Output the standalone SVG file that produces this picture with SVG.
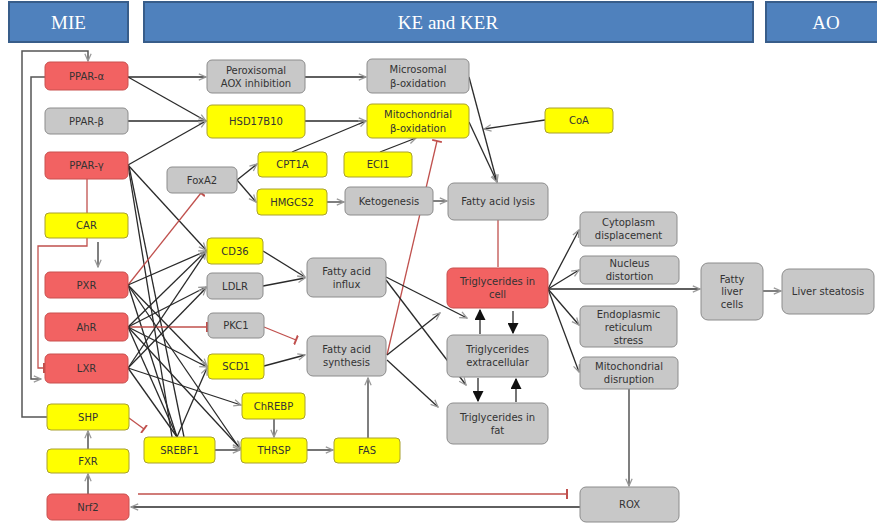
<svg xmlns="http://www.w3.org/2000/svg" width="877" height="525" viewBox="0 0 877 525">
<style>
.hd{fill:#4f81bd;stroke:#385d8a;stroke-width:2}
.ht{font-family:"Liberation Serif",serif;font-size:19px;fill:#fff;text-anchor:middle}
.r{fill:#f26262;stroke:#c9504f;stroke-width:1}
.y{fill:#ffff00;stroke:#a8a030;stroke-width:1}
.g{fill:#c8c8c8;stroke:#8c8c8c;stroke-width:1}
text.t{font-family:"DejaVu Sans",Verdana,sans-serif;font-size:10px;fill:#333;text-anchor:middle}
.e{fill:none;stroke:#2a2a2a;stroke-width:1.3}
.e2{fill:none;stroke:#555;stroke-width:1.5}
.i{fill:none;stroke:#c0504d;stroke-width:1.3}
</style>
<defs>
<marker id="a" viewBox="0 0 10 10" refX="9" refY="5" markerWidth="9" markerHeight="9" orient="auto" markerUnits="userSpaceOnUse"><path d="M1,1.5 L9,5 L1,8.5" fill="none" stroke="#999" stroke-width="1.4"/></marker>
<marker id="f" viewBox="0 0 10 10" refX="9" refY="5" markerWidth="11" markerHeight="11" orient="auto" markerUnits="userSpaceOnUse"><path d="M0,0 L10,5 L0,10 Z" fill="#111"/></marker>
<marker id="tb" viewBox="0 0 4 10" refX="2" refY="5" markerWidth="4" markerHeight="10" orient="auto" markerUnits="userSpaceOnUse"><path d="M2,0 L2,10" stroke="#c0504d" stroke-width="2"/></marker>
</defs>

<g id="headers">
<rect class="hd" x="9" y="2" width="119" height="40"/>
<text class="ht" x="68.5" y="29">MIE</text>
<rect class="hd" x="144" y="2" width="609" height="40"/>
<text class="ht" x="448" y="29">KE and KER</text>
<rect class="hd" x="766" y="2" width="112" height="40"/>
<text class="ht" x="826" y="29">AO</text>
</g>

<g id="connectors">
<path class="e2" d="M47,417 H22 V51 H88 V61" marker-end="url(#a)"/>
<path class="e2" d="M45,77 H31 V379 H41" marker-end="url(#a)"/>
<path class="i" d="M87,238 V246 H38 V368 H44" marker-end="url(#tb)"/>
<path class="i" d="M87,179 V213"/>
<path class="e2" d="M98,242 V267" marker-end="url(#a)"/>
<path class="e2" d="M88,449 V431" marker-end="url(#a)"/>
<path class="e2" d="M88,494 V474" marker-end="url(#a)"/>
<path class="i" d="M129,418 L144,429" marker-end="url(#tb)"/>
<path class="e" d="M128,77 H206" marker-end="url(#a)"/>
<path class="e" d="M128,77 L206,121" marker-end="url(#a)"/>
<path class="e" d="M128,121 H206" marker-end="url(#a)"/>
<path class="e" d="M128,165 L206,121" marker-end="url(#a)"/>
<path class="e" d="M128,165 L206,250" marker-end="url(#a)"/>
<path class="e" d="M128,165 L172,437"/>
<path class="e" d="M129,166 L184,437"/>
<path class="i" d="M128,285 L201,193" marker-end="url(#tb)"/>
<path class="e" d="M128,285 L206,251" marker-end="url(#a)"/>
<path class="e" d="M128,285 L207,366" marker-end="url(#a)"/>
<path class="e" d="M128,285 L240,449" marker-end="url(#a)"/>
<path class="e" d="M128,285 L177,437"/>
<path class="i" d="M128,327 H207" marker-end="url(#tb)"/>
<path class="e" d="M128,327 L206,251" marker-end="url(#a)"/>
<path class="e" d="M128,327 L206,287" marker-end="url(#a)"/>
<path class="e" d="M128,327 L207,367" marker-end="url(#a)"/>
<path class="e" d="M128,327 L177,437"/>
<path class="e" d="M128,327 L240,448" marker-end="url(#a)"/>
<path class="e" d="M128,368 L206,252" marker-end="url(#a)"/>
<path class="e" d="M128,368 L206,288" marker-end="url(#a)"/>
<path class="e" d="M128,368 L177,437"/>
<path class="e" d="M128,368 L241,405" marker-end="url(#a)"/>
<path class="e" d="M177,437 L207,368" marker-end="url(#a)"/>
<path class="e" d="M215,450 H240" marker-end="url(#a)"/>
<path class="e2" d="M274,419 V437" marker-end="url(#a)"/>
<path class="e" d="M307,450 H333" marker-end="url(#a)"/>
<path class="e2" d="M368,438 V378" marker-end="url(#a)"/>
<path class="e" d="M237,180 L257,164" marker-end="url(#a)"/>
<path class="e" d="M237,180 L256,202" marker-end="url(#a)"/>
<path class="e2" d="M327,202 H344" marker-end="url(#a)"/>
<path class="e2" d="M433,201 H447" marker-end="url(#a)"/>
<path class="e" d="M305,77 H366" marker-end="url(#a)"/>
<path class="e" d="M305,121 H366" marker-end="url(#a)"/>
<path class="e" d="M292,152 L366,121" marker-end="url(#a)"/>
<path class="e" d="M380,152 L416,138" marker-end="url(#a)"/>
<path class="e" d="M545,120 L484,129" marker-end="url(#a)"/>
<path class="e" d="M469,77 L497,182" marker-end="url(#a)"/>
<path class="e" d="M469,122 L497,182" marker-end="url(#a)"/>
<path class="e" d="M263,251 L305,277" marker-end="url(#a)"/>
<path class="e" d="M263,286 L305,278" marker-end="url(#a)"/>
<path class="i" d="M264,327 L296,340" marker-end="url(#tb)"/>
<path class="e" d="M264,366 L305,355" marker-end="url(#a)"/>
<path class="i" d="M387,355 L437,141" marker-end="url(#tb)"/>
<path class="e" d="M386,277 L467,318" marker-end="url(#a)"/>
<path class="e" d="M386,280 L466,385" marker-end="url(#a)"/>
<path class="e" d="M387,355 L440,313" marker-end="url(#a)"/>
<path class="e" d="M387,360 L438,407" marker-end="url(#a)"/>
<path class="i" d="M498,220 V267"/>
<path class="e" d="M480,334 V310" marker-end="url(#f)"/>
<path class="e" d="M513,311 V333" marker-end="url(#f)"/>
<path class="e" d="M478,378 V401" marker-end="url(#f)"/>
<path class="e" d="M516,402 V379" marker-end="url(#f)"/>
<path class="e" d="M548,289 L579,230" marker-end="url(#a)"/>
<path class="e" d="M548,289 L579,270" marker-end="url(#a)"/>
<path class="e" d="M548,289 H700" marker-end="url(#a)"/>
<path class="e" d="M548,289 L579,325" marker-end="url(#a)"/>
<path class="e" d="M548,289 L579,372" marker-end="url(#a)"/>
<path class="e2" d="M763,291 H781" marker-end="url(#a)"/>
<path class="e2" d="M629,389 V486" marker-end="url(#a)"/>
<path class="e" d="M580,507 H131" marker-end="url(#a)"/>
<path class="i" d="M138,494 H567" marker-end="url(#tb)"/>
</g>

<g id="n-ppara"><rect class="r" x="45" y="62" width="83" height="28" rx="5"/><text class="t" x="86.5" y="80">PPAR-α</text></g>
<g id="n-pparb"><rect class="g" x="45" y="108" width="83" height="26" rx="5"/><text class="t" x="86.5" y="125">PPAR-β</text></g>
<g id="n-pparg"><rect class="r" x="45" y="152" width="83" height="27" rx="5"/><text class="t" x="86.5" y="169">PPAR-γ</text></g>
<g id="n-car"><rect class="y" x="45" y="213" width="83" height="25" rx="4"/><text class="t" x="86.5" y="229">CAR</text></g>
<g id="n-pxr"><rect class="r" x="45" y="272" width="83" height="26" rx="5"/><text class="t" x="86.5" y="289">PXR</text></g>
<g id="n-ahr"><rect class="r" x="45" y="313" width="83" height="28" rx="5"/><text class="t" x="86.5" y="331">AhR</text></g>
<g id="n-lxr"><rect class="r" x="45" y="354" width="83" height="29" rx="5"/><text class="t" x="86.5" y="372">LXR</text></g>
<g id="n-shp"><rect class="y" x="47" y="404" width="82" height="26" rx="4"/><text class="t" x="88" y="421">SHP</text></g>
<g id="n-fxr"><rect class="y" x="47" y="449" width="82" height="24" rx="4"/><text class="t" x="88" y="465">FXR</text></g>
<g id="n-nrf2"><rect class="r" x="47" y="494" width="82" height="26" rx="5"/><text class="t" x="88" y="511">Nrf2</text></g>

<g id="n-perox"><rect class="g" x="207" y="60" width="98" height="33" rx="5"/><text class="t" x="256" y="74">Peroxisomal</text><text class="t" x="256" y="87">AOX inhibition</text></g>
<g id="n-hsd"><rect class="y" x="207" y="105" width="98" height="33" rx="5"/><text class="t" x="256" y="125">HSD17B10</text></g>
<g id="n-micro"><rect class="g" x="367" y="59" width="102" height="34" rx="5"/><text class="t" x="418" y="73">Microsomal</text><text class="t" x="418" y="87">β-oxidation</text></g>
<g id="n-mito"><rect class="y" x="367" y="104" width="102" height="34" rx="5"/><text class="t" x="418" y="118">Mitochondrial</text><text class="t" x="418" y="132">β-oxidation</text></g>
<g id="n-coa"><rect class="y" x="545" y="108" width="68" height="25" rx="4"/><text class="t" x="579" y="124">CoA</text></g>
<g id="n-foxa2"><rect class="g" x="167" y="167" width="70" height="26" rx="5"/><text class="t" x="202" y="184">FoxA2</text></g>
<g id="n-cpt1a"><rect class="y" x="258" y="152" width="69" height="25" rx="4"/><text class="t" x="292.5" y="168">CPT1A</text></g>
<g id="n-eci1"><rect class="y" x="344" y="152" width="68" height="25" rx="4"/><text class="t" x="378" y="168">ECI1</text></g>
<g id="n-hmgcs2"><rect class="y" x="257" y="189" width="70" height="26" rx="4"/><text class="t" x="292" y="206">HMGCS2</text></g>
<g id="n-keto"><rect class="g" x="345" y="187" width="88" height="28" rx="5"/><text class="t" x="389" y="205">Ketogenesis</text></g>
<g id="n-fal"><rect class="g" x="448" y="183" width="100" height="37" rx="6"/><text class="t" x="498" y="205">Fatty acid lysis</text></g>
<g id="n-cd36"><rect class="y" x="207" y="238" width="56" height="26" rx="4"/><text class="t" x="235" y="255">CD36</text></g>
<g id="n-ldlr"><rect class="g" x="207" y="273" width="56" height="26" rx="5"/><text class="t" x="235" y="290">LDLR</text></g>
<g id="n-pkc1"><rect class="g" x="208" y="313" width="56" height="25" rx="5"/><text class="t" x="236" y="329">PKC1</text></g>
<g id="n-scd1"><rect class="y" x="208" y="354" width="56" height="25" rx="4"/><text class="t" x="236" y="370">SCD1</text></g>
<g id="n-chrebp"><rect class="y" x="242" y="393" width="63" height="26" rx="4"/><text class="t" x="273.5" y="410">ChREBP</text></g>
<g id="n-srebf1"><rect class="y" x="144" y="437" width="71" height="26" rx="4"/><text class="t" x="179.5" y="454">SREBF1</text></g>
<g id="n-thrsp"><rect class="y" x="241" y="438" width="66" height="25" rx="4"/><text class="t" x="274" y="454">THRSP</text></g>
<g id="n-fas"><rect class="y" x="334" y="438" width="66" height="25" rx="4"/><text class="t" x="367" y="454">FAS</text></g>
<g id="n-fainflux"><rect class="g" x="307" y="258" width="79" height="39" rx="6"/><text class="t" x="346.5" y="275">Fatty acid</text><text class="t" x="346.5" y="288">influx</text></g>
<g id="n-fasynth"><rect class="g" x="307" y="336" width="79" height="40" rx="6"/><text class="t" x="346.5" y="353">Fatty acid</text><text class="t" x="346.5" y="366">synthesis</text></g>
<g id="n-tgcell"><rect class="r" x="447" y="268" width="101" height="40" rx="6"/><text class="t" x="497.5" y="285">Triglycerides in</text><text class="t" x="497.5" y="298">cell</text></g>
<g id="n-tgext"><rect class="g" x="447" y="335" width="101" height="42" rx="6"/><text class="t" x="497.5" y="353">Triglycerides</text><text class="t" x="497.5" y="366">extracellular</text></g>
<g id="n-tgfat"><rect class="g" x="447" y="403" width="101" height="41" rx="6"/><text class="t" x="497.5" y="421">Triglycerides in</text><text class="t" x="497.5" y="434">fat</text></g>
<g id="n-cyto"><rect class="g" x="580" y="212" width="97" height="34" rx="5"/><text class="t" x="628.5" y="226">Cytoplasm</text><text class="t" x="628.5" y="239">displacement</text></g>
<g id="n-nucl"><rect class="g" x="580" y="256" width="99" height="28" rx="5"/><text class="t" x="629.5" y="267">Nucleus</text><text class="t" x="629.5" y="280">distortion</text></g>
<g id="n-er"><rect class="g" x="580" y="306" width="97" height="41" rx="5"/><text class="t" x="628.5" y="318">Endoplasmic</text><text class="t" x="628.5" y="331">reticulum</text><text class="t" x="628.5" y="344">stress</text></g>
<g id="n-mitod"><rect class="g" x="580" y="357" width="98" height="32" rx="5"/><text class="t" x="629" y="370">Mitochondrial</text><text class="t" x="629" y="383">disruption</text></g>
<g id="n-flc"><rect class="g" x="701" y="263" width="62" height="57" rx="7"/><text class="t" x="732" y="283">Fatty</text><text class="t" x="732" y="295">liver</text><text class="t" x="732" y="308">cells</text></g>
<g id="n-ls"><rect class="g" x="782" y="269" width="92" height="45" rx="7"/><text class="t" x="828" y="295">Liver steatosis</text></g>
<g id="n-rox"><rect class="g" x="580" y="487" width="99" height="35" rx="6"/><text class="t" x="629.5" y="508">ROX</text></g>
</svg>
